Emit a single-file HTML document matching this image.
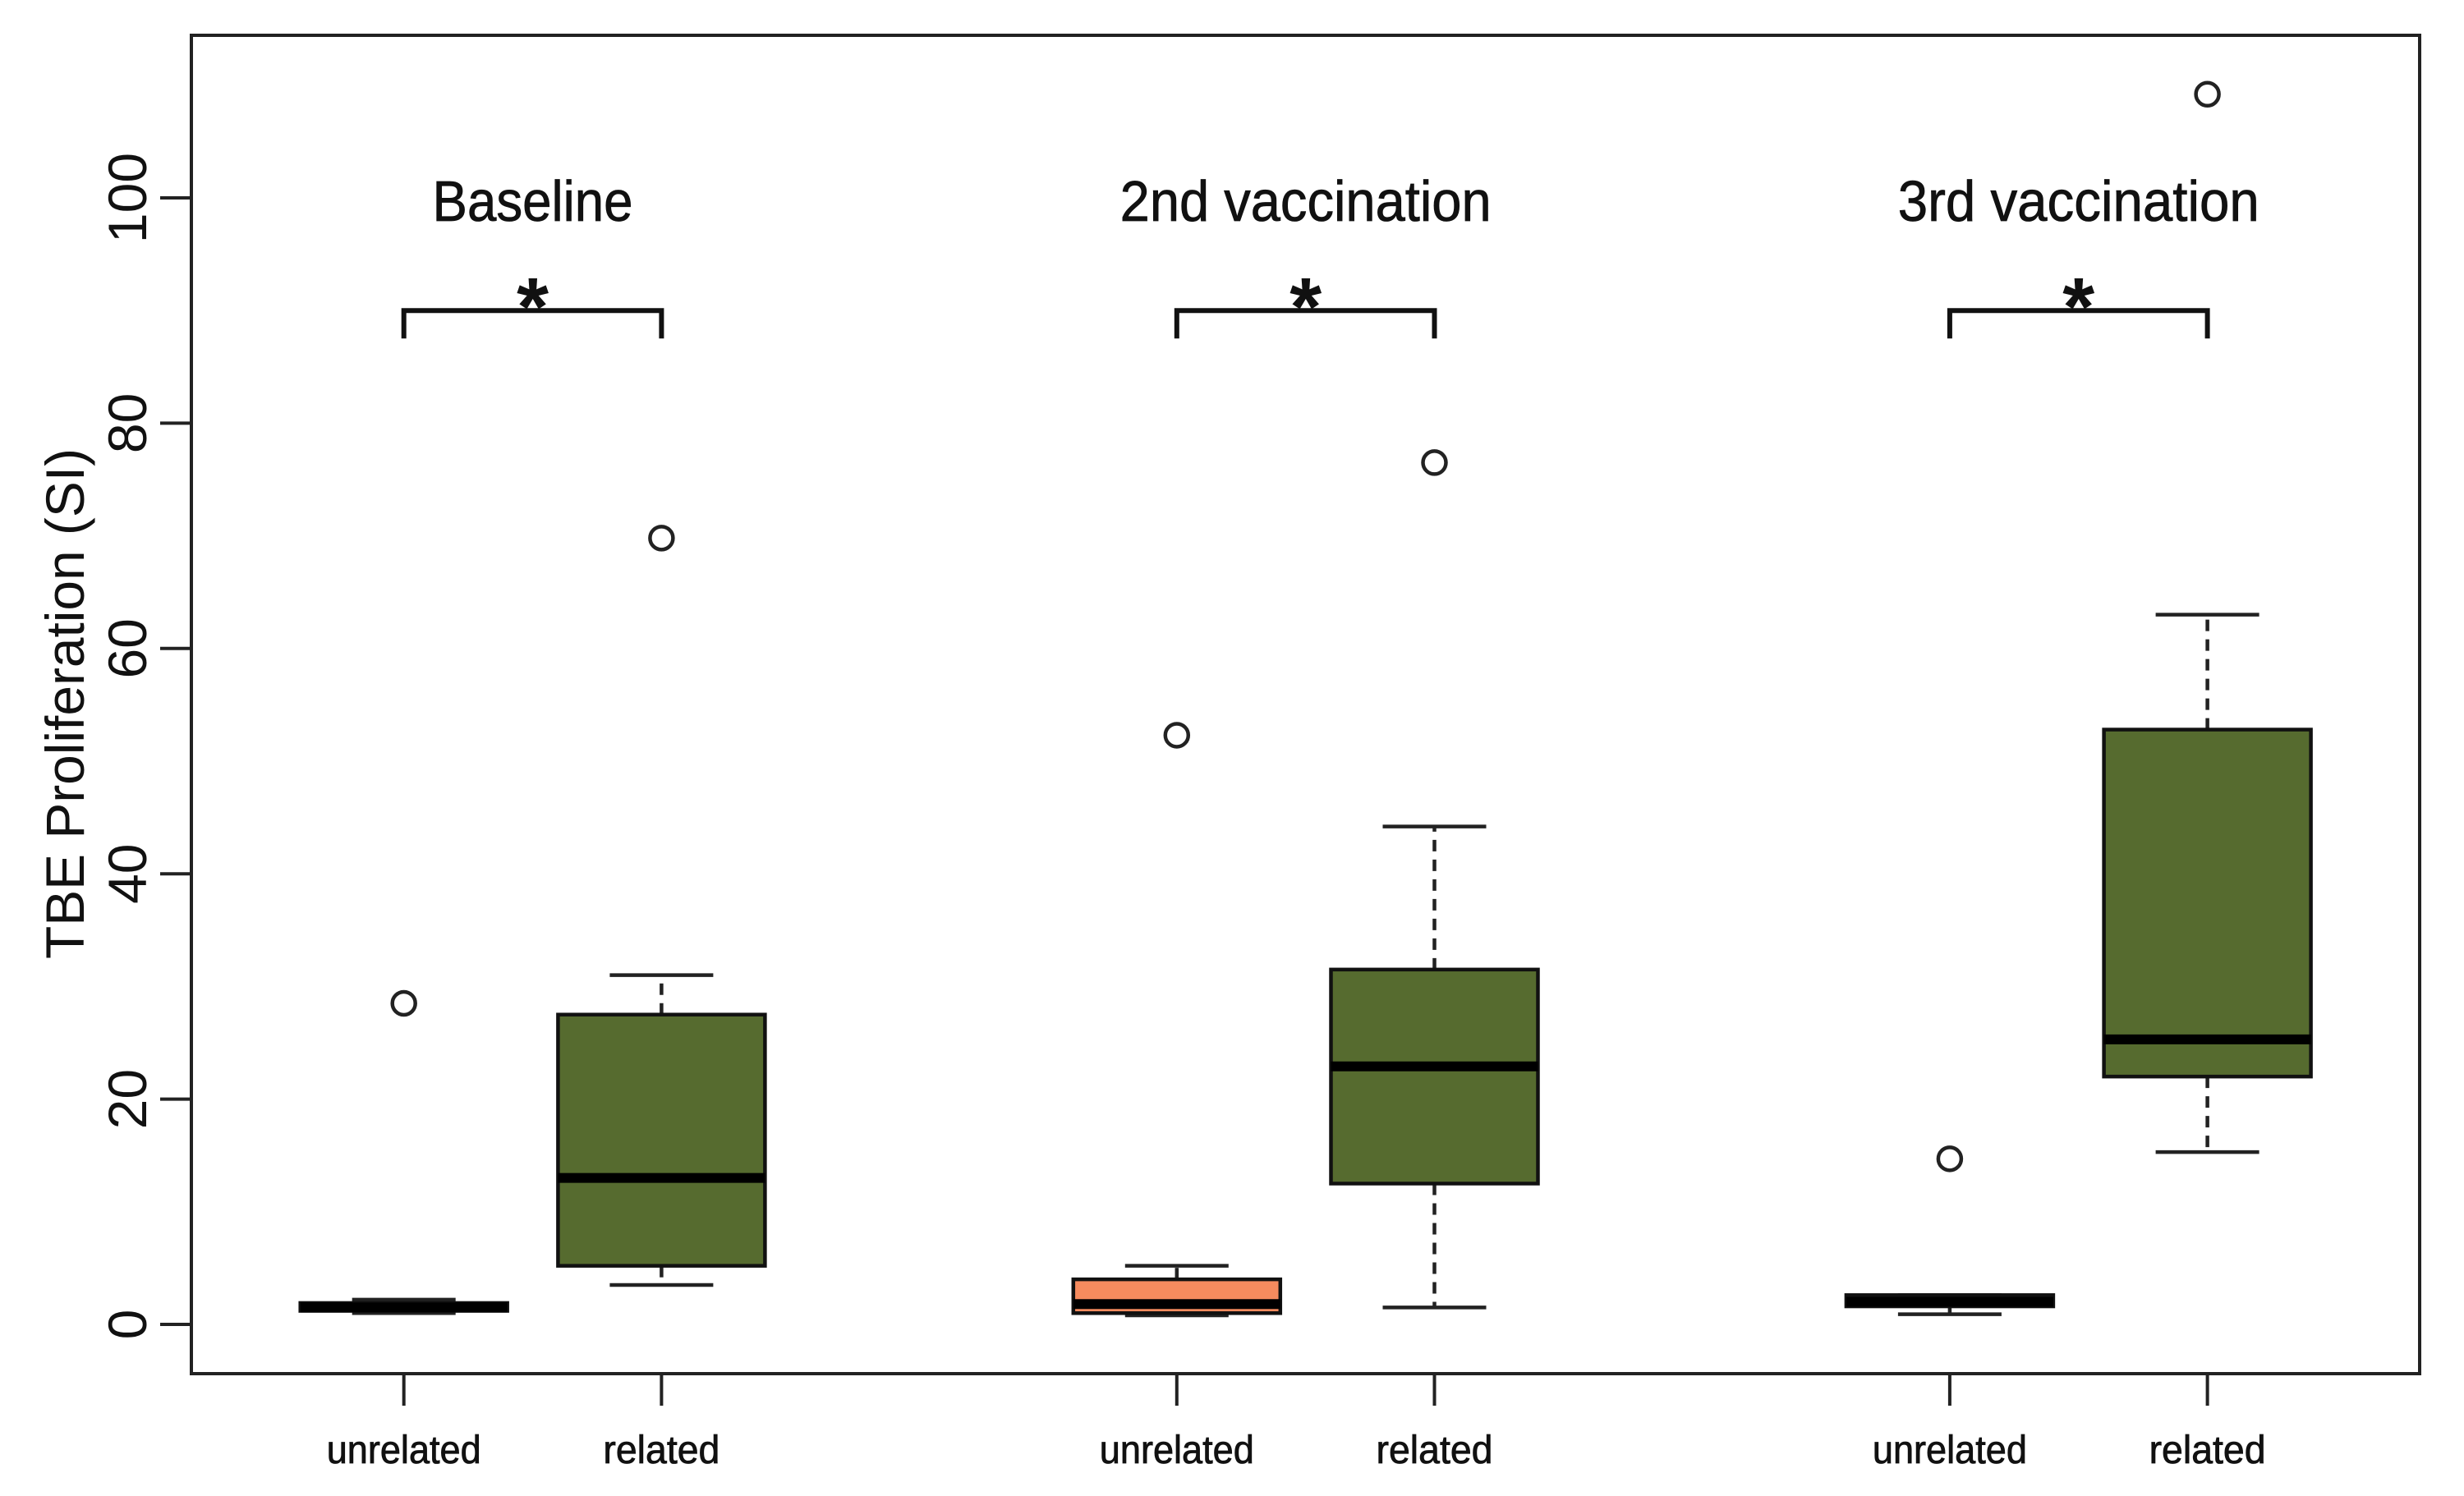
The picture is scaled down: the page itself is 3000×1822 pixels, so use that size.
<!DOCTYPE html>
<html><head><meta charset="utf-8"><style>html,body{margin:0;padding:0;background:#fff}svg{display:block}text{font-family:"Liberation Sans",Arial,sans-serif;fill:#111}</style></head>
<body>
<svg id="chart" width="3000" height="1822" viewBox="0 0 3000 1822">
<rect x="233" y="43" width="2713" height="1630" fill="none" stroke="#222" stroke-width="4"/>
<g id="yaxis"></g>
<g id="xaxis"></g>
<g id="boxes"></g>
<g id="annot"></g>
<text x="80" y="857" font-size="66" text-anchor="middle" transform="rotate(-90 80 857)" dy="22" textLength="622" lengthAdjust="spacingAndGlyphs">TBE Proliferation (SI)</text>
</svg>
<script>
const categories = ["unrelated","related","unrelated","related","unrelated","related"];
const positions = [1,2,4,5,7,8];
const groupTitles = ["Baseline","2nd vaccination","3rd vaccination"];
const whiskerLow = [1.0,3.5,0.8,1.5,0.9,15.3];
const q1 = [1.2,5.2,1.0,12.5,1.6,22.0];
const medians = [1.5,13.0,1.8,22.9,2.0,25.3];
const q3 = [1.9,27.5,4.0,31.5,2.6,52.8];
const whiskerHigh = [2.2,31.0,5.2,44.2,2.6,63.0];
const outliers = [28.5,69.8,52.3,76.5,14.7,109.2];
const fills = ["#566b2f","#566b2f","#f68b5e","#566b2f","#566b2f","#566b2f"];
const yTicks = [0,20,40,60,80,100];
const bracketLevel = 90;

const NS="http://www.w3.org/2000/svg";
const X = p => 178 + (p*313.7);
const Y = v => 1613 - v*13.72;
function mk(tag, attrs, parent){const e=document.createElementNS(NS,tag);for(const k in attrs)e.setAttribute(k,attrs[k]);parent.appendChild(e);return e;}
const ya=document.getElementById('yaxis'), xa=document.getElementById('xaxis'), bx=document.getElementById('boxes'), an=document.getElementById('annot');

yTicks.forEach(t=>{
  const l=mk('line',{x1:195,x2:233,y1:Y(t),y2:Y(t),stroke:'#222','stroke-width':4},ya);
  
  
  const tx=mk('text',{x:178,y:Y(t),'font-size':66,'text-anchor':'middle',transform:`rotate(-90 178 ${Y(t)})`},ya);
  tx.textContent=t;
  
  
});

positions.forEach((p,i)=>{
  const cx=X(p), hw=126, cw=63;
  const t=mk('line',{x1:cx,x2:cx,y1:1673,y2:1712,stroke:'#222','stroke-width':4},xa);
  
  
  const lb=mk('text',{x:cx,y:1782,'font-size':48,'text-anchor':'middle','stroke':'#111','stroke-width':0.8,textLength:categories[i]==='unrelated'?188:142,lengthAdjust:'spacingAndGlyphs'},xa);
  lb.textContent=categories[i];
  
  

  const g=mk('g',{},bx);
  
  
  mk('line',{x1:cx,x2:cx,y1:Y(q3[i]),y2:Y(whiskerHigh[i]),stroke:'#222','stroke-width':4.5,'stroke-dasharray':'14 10'},g);
  mk('line',{x1:cx,x2:cx,y1:Y(q1[i]),y2:Y(whiskerLow[i]),stroke:'#222','stroke-width':4.5,'stroke-dasharray':'14 10'},g);
  mk('line',{x1:cx-cw,x2:cx+cw,y1:Y(whiskerHigh[i]),y2:Y(whiskerHigh[i]),stroke:'#222','stroke-width':4.5},g);
  mk('line',{x1:cx-cw,x2:cx+cw,y1:Y(whiskerLow[i]),y2:Y(whiskerLow[i]),stroke:'#222','stroke-width':4.5},g);
  mk('rect',{x:cx-hw,y:Y(q3[i]),width:2*hw,height:Math.max(Y(q1[i])-Y(q3[i]),1),fill:fills[i],stroke:'#111','stroke-width':4.5},g);
  mk('line',{x1:cx-hw,x2:cx+hw,y1:Y(medians[i]),y2:Y(medians[i]),stroke:'#000','stroke-width':12},g);
  const o=mk('circle',{cx:cx,cy:Y(outliers[i]),r:14,fill:'none',stroke:'#222','stroke-width':4.5},bx);
  
  
});

groupTitles.forEach((g,k)=>{
  const a=X(positions[2*k]), b=X(positions[2*k+1]), m=(a+b)/2, yb=Y(bracketLevel);
  const tt=mk('text',{x:m,y:269,'font-size':70,'text-anchor':'middle','stroke':'#111','stroke-width':0.8,textLength:[244,452,440][k],lengthAdjust:'spacingAndGlyphs'},an);
  tt.textContent=g;
  
  
  const br=mk('path',{d:`M${a} ${yb+34} V${yb} H${b} V${yb+34}`,fill:'none',stroke:'#111','stroke-width':6},an);
  
  
  const st=mk('text',{x:m,y:yb+30,'font-size':100,'font-weight':'bold','text-anchor':'middle'},an);
  st.textContent='*';
  
  
});
</script>
</body></html>
